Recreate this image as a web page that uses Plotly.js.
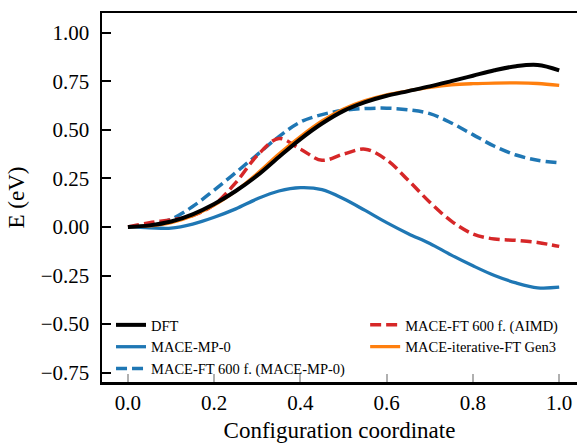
<!DOCTYPE html>
<html>
<head>
<meta charset="utf-8">
<script src="https://cdn.plot.ly/plotly-3.0.1.min.js"></script>
<style>
  html, body { margin: 0; padding: 0; background: #ffffff; }
  #chart { width: 577px; height: 443px; }
</style>
</head>
<body>
<div id="chart"></div>
<script>
// Configuration coordinate samples
const coord = [0, 0.05, 0.1, 0.15, 0.2, 0.25, 0.3, 0.35, 0.4, 0.45, 0.5,
               0.55, 0.6, 0.65, 0.7, 0.75, 0.8, 0.85, 0.9, 0.95, 1.0];

// Energies (eV)
const dft = [0, 0.008, 0.028, 0.065, 0.118, 0.185, 0.265, 0.36, 0.452, 0.532, 0.597,
             0.642, 0.675, 0.699, 0.723, 0.75, 0.778, 0.806, 0.827, 0.833, 0.806];
const maceMP0 = [0, -0.004, -0.006, 0.015, 0.05, 0.093, 0.145, 0.185, 0.202, 0.192, 0.145,
                 0.085, 0.022, -0.035, -0.085, -0.145, -0.2, -0.25, -0.288, -0.313, -0.31];
const maceFTmp0 = [0, 0.01, 0.04, 0.105, 0.19, 0.28, 0.372, 0.465, 0.54, 0.578, 0.6,
                   0.609, 0.611, 0.603, 0.583, 0.535, 0.475, 0.415, 0.37, 0.343, 0.33];
const maceFTaimd = [0, 0.022, 0.037, 0.058, 0.115, 0.228, 0.368, 0.455, 0.4, 0.343, 0.375,
                    0.4, 0.345, 0.24, 0.127, 0.03, -0.036, -0.062, -0.069, -0.08, -0.1];
const maceGen3 = [0, 0.005, 0.022, 0.058, 0.112, 0.185, 0.275, 0.375, 0.465, 0.545, 0.607,
                  0.65, 0.68, 0.7, 0.718, 0.731, 0.737, 0.74, 0.741, 0.738, 0.728];

const seriesNames = ['DFT', 'MACE-MP-0', 'MACE-FT 600 f. (MACE-MP-0)',
                     'MACE-FT 600 f. (AIMD)', 'MACE-iterative-FT Gen3'];

const xTicks = [0, 0.2, 0.4, 0.6, 0.8, 1.0];
const xTickText = ['0.0', '0.2', '0.4', '0.6', '0.8', '1.0'];
const yTicks = [-0.75, -0.5, -0.25, 0, 0.25, 0.5, 0.75, 1.0];
const yTickText = ['\u22120.75', '\u22120.50', '\u22120.25', '0.00', '0.25', '0.50', '0.75', '1.00'];

const FONT = '"Liberation Serif", "DejaVu Serif", serif';

function tr(y, name, color, width, dash, legend, rank) {
  return {
    x: coord, y: y, name: name, type: 'scatter', mode: 'lines',
    line: {color: color, width: width, dash: dash, shape: 'spline', smoothing: 1},
    legend: legend, legendrank: rank, hoverinfo: 'skip'
  };
}

const traces = [
  tr(maceMP0, seriesNames[1], '#1f77b4', 3.3, 'solid', 'legend', 2),
  tr(maceFTmp0, seriesNames[2], '#1f77b4', 3.5, '11px,5px', 'legend', 3),
  tr(maceFTaimd, seriesNames[3], '#d62728', 3.5, '11px,5px', 'legend2', 4),
  tr(maceGen3, seriesNames[4], '#ff7f0e', 3.3, 'solid', 'legend2', 5),
  tr(dft, seriesNames[0], '#000000', 4, 'solid', 'legend', 1)
];

const layout = {
  width: 577, height: 443,
  margin: {l: 102, r: 0, t: 13, b: 61, pad: 0},
  paper_bgcolor: '#ffffff', plot_bgcolor: '#ffffff',
  font: {family: FONT, color: '#000000', size: 20},
  showlegend: true,
  xaxis: {
    range: [-0.0602, 1.0413], tickvals: xTicks, ticktext: xTickText,
    ticks: 'inside', ticklen: 8, tickwidth: 2, tickcolor: '#b0b0b0',
    showline: true, linecolor: '#000000', linewidth: 2.5, mirror: true,
    showgrid: false, zeroline: false,
    tickfont: {family: FONT, size: 21, color: '#000000'},
    title: {text: 'Configuration coordinate', font: {family: FONT, size: 23, color: '#000000'}, standoff: 8},
    automargin: false
  },
  yaxis: {
    range: [-0.7977, 1.1007], tickvals: yTicks, ticktext: yTickText,
    ticks: 'inside', ticklen: 9, tickwidth: 2, tickcolor: '#000000',
    showline: true, linecolor: '#000000', linewidth: 2.5, mirror: false,
    showgrid: false, zeroline: false,
    tickfont: {family: FONT, size: 21, color: '#000000'},
    ticklabelstandoff: 6,
    title: {text: 'E (eV)', font: {family: FONT, size: 23, color: '#000000'}, standoff: 10},
    automargin: false
  },
  legend: {
    x: 0.019, y: 0.198, xanchor: 'left', yanchor: 'top',
    bgcolor: 'rgba(0,0,0,0)', borderwidth: 0,
    font: {family: FONT, size: 14.5, color: '#000000'},
    traceorder: 'normal'
  },
  legend2: {
    x: 0.554, y: 0.198, xanchor: 'left', yanchor: 'top',
    bgcolor: 'rgba(0,0,0,0)', borderwidth: 0,
    font: {family: FONT, size: 14.5, color: '#000000'},
    traceorder: 'normal'
  }
};

Plotly.newPlot('chart', traces, layout, {staticPlot: true, displayModeBar: false});
</script>
</body>
</html>
